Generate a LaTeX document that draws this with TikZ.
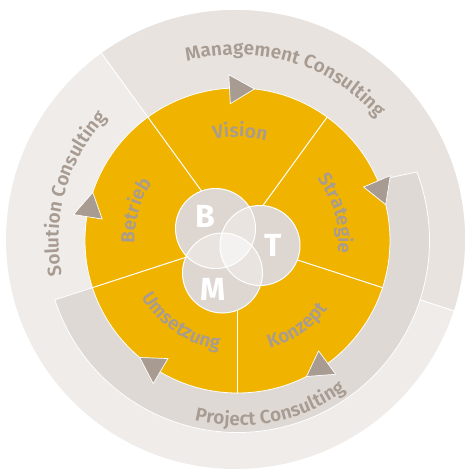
\documentclass[tikz,border=0pt]{standalone}
\usepackage{fontspec}
\setmainfont{Fira Sans}
\IfFontExistsTF{Fira Sans SemiBold}
  {\newfontfamily\lblface{Fira Sans SemiBold}}
  {\newcommand\lblface{\bfseries}}
\usetikzlibrary{decorations.text}
\definecolor{yel}{HTML}{EFB300}
\definecolor{mgmt}{HTML}{E8E3DF}
\definecolor{sol}{HTML}{EFECE9}
\definecolor{bandc}{HTML}{DFD9D5}
\definecolor{tri}{HTML}{A89B91}
\definecolor{txt}{HTML}{A89C92}
\definecolor{cone}{HTML}{DDD6D1}
\definecolor{ctwo}{HTML}{E9E4E0}
\definecolor{cthree}{HTML}{F4F2F0}
\newcommand\lblfont{\fontsize{19}{19}\selectfont\lblface}
\newcommand\bmtfont{\fontsize{32}{32}\selectfont\bfseries}
\tikzset{
  arclabel/.style={decorate, decoration={text along path, text={|\lblfont|#1}, text align=center, text color=txt}},
  divider/.style={white, line width=1pt},
  arrowhead/.style={fill=tri, draw=white, line width=0.7pt, line join=miter},
  bmt/.style={text=white, font=\bmtfont, inner sep=0pt},
  ring/.style={draw=white, line width=1pt}
}
\begin{document}
\begin{tikzpicture}[x=1pt,y=1pt]
\useasboundingbox (-237.5,-228.5) rectangle (228.5,240.5);
% outer disc
\fill[sol] (-2,1) circle (229.5);
\begin{scope}
  \clip (-2,1) circle (229.5);
  \fill[mgmt] (0,0) -- (126:300) arc[start angle=126, end angle=-18, radius=300] -- cycle;
  \draw[divider] (126:152) -- (126:300);
  \draw[divider] (-18:192) -- (-18:300);
\end{scope}
% project band
\filldraw[fill=bandc, draw=white, line width=0.8pt] (198:150) -- (198:192) arc[start angle=198, end angle=380.9, radius=192] -- (382.2:168) -- (382.2:150) arc[start angle=382.2, end angle=198, radius=150] -- cycle;
% yellow disc
\filldraw[fill=yel, draw=white, line width=0.8pt] (0,0) circle (152.5);
\coordinate (O) at (0,0);
\foreach \a in {126,54,-18,-90,198} {
  \coordinate (d\a) at (\a:152.5);
  \draw[divider] (O) -- (d\a);
}
% arrowheads
\foreach \b in {93,23,-53.7,-120.5,171} {
  \filldraw[arrowhead] (\b:166) -- ({\b-9.4}:152.5) -- (\b:137) -- cycle;
}
% BMT circles
\coordinate (cB) at (-22,12);
\coordinate (cT) at (22.5,-5);
\coordinate (cM) at (-15,-32.5);
\fill[cone] (cB) circle (40) (cT) circle (40) (cM) circle (40);
\begin{scope}
  \clip (cB) circle (40);
  \fill[ctwo] (cT) circle (40) (cM) circle (40);
\end{scope}
\begin{scope}
  \clip (cT) circle (40);
  \fill[ctwo] (cM) circle (40);
\end{scope}
\begin{scope}
  \clip (cB) circle (40);
  \clip (cT) circle (40);
  \fill[cthree] (cM) circle (40);
\end{scope}
\draw[ring] (cB) circle (40) (cT) circle (40) (cM) circle (40);
\node[bmt] (B) at (-32,24) {B};
\node[bmt] (T) at (36,-4.5) {T};
\node[bmt] (M) at (-24,-48.5) {M};
% outer labels
\path[arclabel={Management Consulting}] (133.5:186) arc[start angle=133.5, end angle=13.5, radius=186];
\path[arclabel={Solution Consulting}] (224:179) arc[start angle=224, end angle=104, radius=179];
\path[arclabel={Project Consulting}] (-138.8:185) arc[start angle=-138.8, end angle=-18.8, radius=185];
% inner labels
\path[arclabel={Vision}] (138.6:103.5) arc[start angle=138.6, end angle=38.6, radius=103.5];
\path[arclabel={Strategie}] (65.3:101) arc[start angle=65.3, end angle=-34.7, radius=101];
\path[arclabel={Betrieb}] (213.7:103) arc[start angle=213.7, end angle=113.7, radius=103];
\path[arclabel={Konzept}] (-105.2:113) arc[start angle=-105.2, end angle=-5.2, radius=113];
\path[arclabel={Umsetzung}] (-174.5:111) arc[start angle=-174.5, end angle=-74.5, radius=111];
\end{tikzpicture}
\end{document}
